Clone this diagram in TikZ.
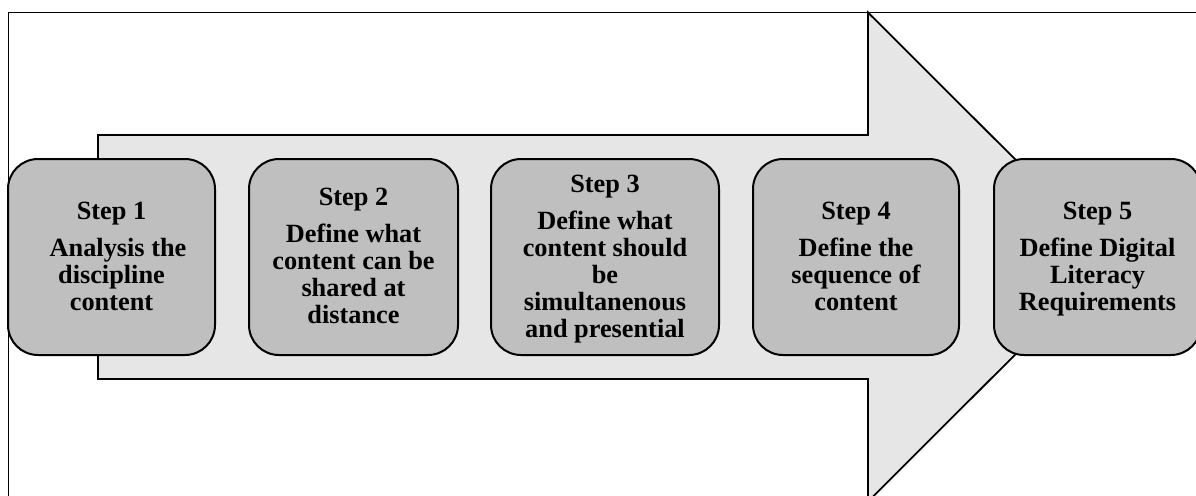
\documentclass[tikz,border=0pt]{standalone}
\usepackage{fontspec}
\setmainfont{Liberation Serif}
\definecolor{boxgray}{HTML}{BFBFBF}
\definecolor{arrowgray}{HTML}{E6E6E6}
\begin{document}
\begin{tikzpicture}[x=1pt,y=-1pt,
  frameline/.style={line width=1.9pt, draw=black},
  arrowshape/.style={fill=arrowgray, draw=black, line width=1.8pt, line join=miter},
  stepbox/.style={draw=black, fill=boxgray, line width=2pt, rounded corners=30pt, minimum height=196pt, inner sep=0pt},
  steptext/.style={anchor=north, inner sep=0pt, align=center, font=\fontsize{26.3}{27}\selectfont\bfseries}]
\useasboundingbox (0,0) rectangle (1196,495);
% partial frame
\draw[frameline] (8.5,520) -- (8.5,12.5) -- (1220,12.5);
% big arrow
\draw[arrowshape] (98,135) -- (868,135) -- (868,12.5) -- (1113,257) -- (868,501.5) -- (868,379) -- (98,379) -- cycle;
% boxes
\node[stepbox, minimum width=207pt] (s1) at (111.5,257) {};
\node[stepbox, minimum width=209pt] (s2) at (353.5,257) {};
\node[stepbox, minimum width=228pt] (s3) at (605,257) {};
\node[stepbox, minimum width=206pt] (s4) at (856,257) {};
\node[stepbox, minimum width=207pt] (s5) at (1097.5,257) {};
% texts
\node[steptext] (t1) at (111.5,202) {Step 1\\[10pt]\hspace*{13pt}Analysis the\\discipline\\content};
\node[steptext] (t2) at (353.5,188) {Step 2\\[10pt]Define what\\content can be\\shared at\\distance};
\node[steptext] (t3) at (605,175) {Step 3\\[10pt]Define what\\content should\\be\\simultanenous\\and presential};
\node[steptext] (t4) at (856,202) {Step 4\\[10pt]Define the\\sequence of\\content};
\node[steptext] (t5) at (1097.5,202) {Step 5\\[10pt]Define Digital\\Literacy\\Requirements};
\end{tikzpicture}
\end{document}
